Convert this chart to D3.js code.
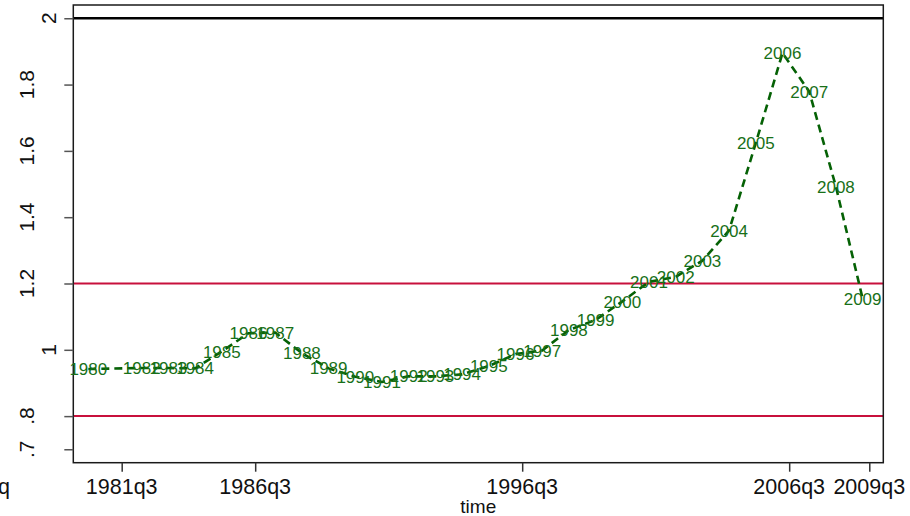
<!DOCTYPE html>
<html>
<head>
<meta charset="utf-8">
<script src="https://cdn.jsdelivr.net/npm/d3@7"></script>
<style>
  body { margin: 0; background: #fff; }
  text { font-family: "Liberation Sans", Arial, sans-serif; }
</style>
</head>
<body>
<div id="chart"></div>
<script>
// données : une valeur par année (placée au 2e trimestre)
const years = [1980, 1982, 1983, 1984, 1985, 1986, 1987, 1988, 1989, 1990,
               1991, 1992, 1993, 1994, 1995, 1996, 1997, 1998, 1999, 2000,
               2001, 2002, 2003, 2004, 2005, 2006, 2007, 2008, 2009];
const values = [0.942, 0.945, 0.945, 0.944, 0.995, 1.050, 1.052, 0.990, 0.944, 0.919,
                0.903, 0.920, 0.920, 0.926, 0.951, 0.987, 0.998, 1.060, 1.090, 1.146,
                1.205, 1.220, 1.269, 1.360, 1.624, 1.895, 1.779, 1.492, 1.155];

const yTicks = [2, 1.8, 1.6, 1.4, 1.2, 1, 0.8, 0.7];
const yTickLabels = ["2", "1.8", "1.6", "1.4", "1.2", "1", ".8", ".7"];
const xTickLabels = ["1981q3", "1986q3", "1996q3", "2006q3", "2009q3"];
const refLines = [
  { value: 2, color: "#000000" },
  { value: 1.2, color: "#c8103c" },
  { value: 0.8, color: "#c8103c" }
];

// trimestre -> index (comme tq() de Stata)
const tq = (yr, q) => yr * 4 + q - 1;
const parseTq = s => tq(+s.slice(0, 4), +s.slice(5));

const W = 910, H = 516;
const plot = { left: 73.3, right: 883.3, top: 5, bottom: 462.7 };

const svg = d3.select("#chart").append("svg")
    .attr("width", W)
    .attr("height", H);

const x = d3.scaleLinear()
    .domain([7918.75, 8040.1])
    .range([plot.left, plot.right]);

const y = d3.scaleLinear()
    .domain([0.6595, 2.040])
    .range([plot.bottom, plot.top]);

const data = years.map((yr, i) => ({ year: yr, t: tq(yr, 2), v: values[i] }));

// lignes de référence
svg.selectAll(".ref")
  .data(refLines)
  .join("line")
    .attr("x1", plot.left)
    .attr("x2", plot.right)
    .attr("y1", d => y(d.value))
    .attr("y2", d => y(d.value))
    .attr("stroke", d => d.color)
    .attr("stroke-width", d => d.value === 2 ? 2.6 : 2);

// cadre
svg.append("rect")
    .attr("x", plot.left)
    .attr("y", plot.top)
    .attr("width", plot.right - plot.left)
    .attr("height", plot.bottom - plot.top)
    .attr("fill", "none")
    .attr("stroke", "#1a1a1a")
    .attr("stroke-width", 1.5);

// axe Y
const yAxis = svg.append("g")
    .attr("transform", `translate(${plot.left},0)`)
    .call(d3.axisLeft(y).tickValues(yTicks).tickSize(9).tickFormat(""));
yAxis.select(".domain").remove();
yAxis.selectAll(".tick line").attr("stroke", "#555").attr("stroke-width", 1.5);

svg.selectAll(".ylab")
  .data(yTicks)
  .join("text")
    .attr("class", "ylab")
    .attr("transform", (d, i) => {
        const xb = yTickLabels[i].length === 1 ? 55.5 : 33.5;
        return `translate(${xb},${y(d)}) rotate(-90)`;
    })
    .attr("text-anchor", "middle")
    .style("font-size", "21px")
    .attr("fill", "#111")
    .text((d, i) => yTickLabels[i]);

// axe X
const xAxis = svg.append("g")
    .attr("transform", `translate(0,${plot.bottom})`)
    .call(d3.axisBottom(x).tickValues(xTickLabels.map(parseTq)).tickSize(9).tickFormat(""));
xAxis.select(".domain").remove();
xAxis.selectAll(".tick line").attr("stroke", "#333").attr("stroke-width", 1.5);

svg.selectAll(".xlab")
  .data(xTickLabels)
  .join("text")
    .attr("class", "xlab")
    .attr("x", d => x(parseTq(d)))
    .attr("y", 494)
    .attr("text-anchor", "middle")
    .style("font-size", "21.5px")
    .attr("fill", "#111")
    .text(d => d);

// morceau de libellé coupé au bord gauche
svg.append("text")
    .attr("x", -2)
    .attr("y", 494)
    .style("font-size", "21.5px")
    .attr("fill", "#111")
    .text("q");

svg.append("text")
    .attr("x", (plot.left + plot.right) / 2)
    .attr("y", 513)
    .attr("text-anchor", "middle")
    .style("font-size", "19px")
    .attr("fill", "#111")
    .text("time");

// courbe en tirets
svg.append("path")
    .datum(data)
    .attr("fill", "none")
    .attr("stroke", "#056105")
    .attr("stroke-width", 2.6)
    .attr("stroke-dasharray", "8,5")
    .attr("d", d3.line().x(d => x(d.t)).y(d => y(d.v)));

// étiquettes des années, centrées sur les points
svg.selectAll(".ptlab")
  .data(data)
  .join("text")
    .attr("class", "ptlab")
    .attr("x", d => x(d.t))
    .attr("y", d => y(d.v))
    .attr("dy", "0.36em")
    .attr("text-anchor", "middle")
    .style("font-size", "17px")
    .attr("fill", "#187018")
    .text(d => d.year);
</script>
</body>
</html>
